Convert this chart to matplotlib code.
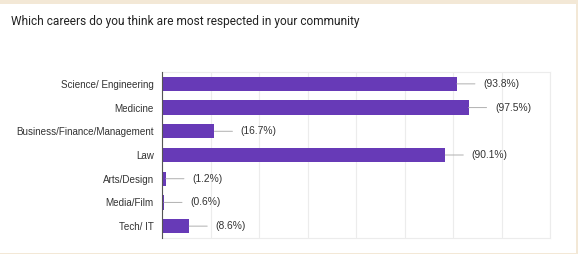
import matplotlib
matplotlib.use("Agg")
import matplotlib.pyplot as plt
from matplotlib.patches import Rectangle

categories = ["Science/ Engineering", "Medicine", "Business/Finance/Management",
              "Law", "Arts/Design", "Media/Film", "Tech/ IT"]
counts = [152, 158, 27, 146, 2, 1, 14]
pct_labels = ["(93.8%)", "(97.5%)", "(16.7%)", "(90.1%)", "(1.2%)", "(0.6%)", "(8.6%)"]
x_max = 200
grid_step = 25

W, H = 578, 254
fig = plt.figure(figsize=(W / 100, H / 100), dpi=100)
fig.patch.set_facecolor("#f3e8d6")
# white card
fig.add_artist(Rectangle((0, 1 / H), 576 / W, 249 / H, transform=fig.transFigure,
                         facecolor="white", edgecolor="none", zorder=0))

fig.text(11 / W, 1 - 22 / H, "Which careers do you think are most respected in your community",
         fontsize=8.6, family="Roboto", color="#222222", va="center", ha="left")

ax = fig.add_axes([162 / W, 1 - 238 / H, (550 - 162) / W, (238 - 72) / H])
ax.set_facecolor("none")
y = list(range(len(categories)))
ax.barh(y, counts, height=0.6, color="#673ab7", zorder=3)
ax.set_xlim(0, x_max)
ax.set_ylim(len(categories) - 0.5, -0.5)
ax.set_xticks(range(0, x_max + 1, grid_step))
ax.tick_params(axis="x", length=0, labelbottom=False)
ax.tick_params(axis="y", length=0, pad=6)
ax.set_yticks(y)
ax.set_yticklabels(categories, family="Liberation Sans", fontsize=7.1, color="#333333")
ax.grid(axis="x", color="#ececec", linewidth=0.8, zorder=0)
for s in ["top", "right", "bottom"]:
    ax.spines[s].set_color("#ececec")
    ax.spines[s].set_linewidth(0.8)
ax.spines["left"].set_color("#555555")
ax.spines["left"].set_linewidth(0.8)
ax.spines["left"].set_zorder(4)

for yi, c, lab in zip(y, counts, pct_labels):
    ax.annotate("", xy=(c, yi), xytext=(13, 0), textcoords="offset points",
                arrowprops=dict(arrowstyle="-", color="#b0b0b0", lw=0.7, shrinkA=0, shrinkB=0))
    ax.annotate(lab, xy=(c, yi), xytext=(19, 0), textcoords="offset points",
                va="center", ha="left", fontsize=7.4, family="Liberation Sans", color="#333333")

fig.savefig("out.png", dpi=100, facecolor=fig.get_facecolor())
